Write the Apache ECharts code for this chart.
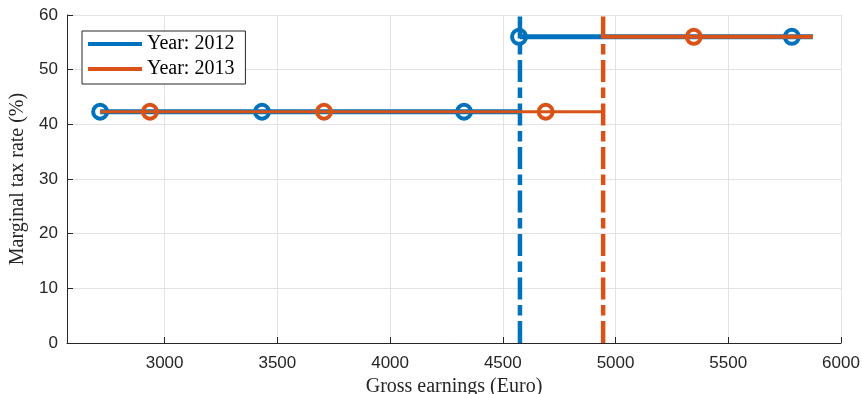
<!DOCTYPE html>
<html>
<head>
<meta charset="utf-8">
<script src="https://cdn.jsdelivr.net/npm/echarts@6/dist/echarts.min.js"></script>
<style>
html,body{margin:0;padding:0;background:#fff;}
#chart{width:862px;height:394px;}
</style>
</head>
<body>
<div id="chart"></div>
<script>
// ---- Data ----
const legendNames = ['Year: 2012', 'Year: 2013'];
const xTicks = [3000, 3500, 4000, 4500, 5000, 5500, 6000];
const yTicks = [0, 10, 20, 30, 40, 50, 60];
const rateLow = 42.3;
const rateHigh = 56;
const earningsStart = 2714;
const earningsEnd = 5875;
const threshold2012 = 4576;
const threshold2013 = 4945;
const markers2012X = [2714, 3432, 4328, 4572, 5782];
const markers2012Y = [42.3, 42.3, 42.3, 56, 56];
const markers2013X = [2935, 3707, 4690, 5347];
const markers2013Y = [42.3, 42.3, 42.3, 56];

const blue = '#0072BD';
const orange = '#D95319';
const serif = '"Liberation Serif", "DejaVu Serif", serif';
const sans = '"Liberation Sans", Arial, sans-serif';

function pairs(xs, ys) { return xs.map((x, i) => [x, ys[i]]); }

function yearSeries(name, color, threshold, mx, my, lowW, highW, z) {
  return [
    {
      name: name, type: 'line', data: [[earningsStart, rateLow], [threshold, rateLow]],
      showSymbol: false, symbol: 'none', lineStyle: { color: color, width: lowW }, itemStyle: { color: color },
      z: z, animation: false, silent: true
    },
    {
      name: name + ' high', type: 'line', data: [[threshold, rateHigh], [earningsEnd, rateHigh]],
      showSymbol: false, symbol: 'none', lineStyle: { color: color, width: highW }, itemStyle: { color: color },
      z: z, animation: false, silent: true
    },
    {
      name: name + ' threshold', type: 'line', data: [[threshold, 0], [threshold, 60]],
      showSymbol: false, symbol: 'none',
      lineStyle: { color: color, width: 4.5, type: [22, 5.5, 10.5, 5.5] },
      itemStyle: { color: color }, z: z, animation: false, silent: true
    },
    {
      name: name + ' markers', type: 'scatter', data: pairs(mx, my),
      symbol: 'circle', symbolSize: 14,
      itemStyle: { color: 'rgba(0,0,0,0)', borderColor: color, borderWidth: 4, opacity: 1 },
      z: z + 1, animation: false, silent: true
    }
  ];
}

const chart = echarts.init(document.getElementById('chart'), null, { renderer: 'canvas' });
chart.setOption({
  animation: false,
  backgroundColor: '#ffffff',
  grid: { left: 67, right: 21, top: 15, bottom: 51, containLabel: false, outerBoundsMode: 'none' },
  legend: {
    left: 82, top: 31, orient: 'vertical',
    data: [
      { name: legendNames[0], icon: 'rect' },
      { name: legendNames[1], icon: 'rect' }
    ],
    itemWidth: 54, itemHeight: 4, itemGap: 5,
    padding: [3, 11, 5, 6],
    borderColor: '#262626', borderWidth: 1, borderRadius: 0,
    backgroundColor: '#ffffff',
    textStyle: { fontFamily: serif, fontSize: 20, color: '#000' },
    selectedMode: false
  },
  xAxis: {
    type: 'value', min: 2567, max: 6000,
    name: 'Gross earnings (Euro)', nameLocation: 'middle', nameGap: 32,
    nameTextStyle: { fontFamily: serif, fontSize: 20, color: '#262626' },
    axisLine: { show: true, onZero: false, lineStyle: { color: '#262626', width: 1 } },
    axisTick: { show: true, inside: true, length: 6, customValues: xTicks, lineStyle: { color: '#262626' } },
    axisLabel: { customValues: xTicks, fontFamily: sans, fontSize: 17, color: '#262626', margin: 12,
      formatter: v => String(v) },
    splitLine: { show: true, lineStyle: { color: '#e3e3e3', width: 1 } }
  },
  yAxis: {
    type: 'value', min: 0, max: 60, interval: 10,
    name: 'Marginal tax rate (%)', nameLocation: 'middle', nameGap: 34, nameRotate: 90,
    nameTextStyle: { fontFamily: serif, fontSize: 20, color: '#262626' },
    axisLine: { show: true, onZero: false, lineStyle: { color: '#262626', width: 1 } },
    axisTick: { show: true, inside: true, length: 6, lineStyle: { color: '#262626' } },
    axisLabel: { fontFamily: sans, fontSize: 17, color: '#262626', margin: 9, formatter: v => String(v) },
    splitLine: { show: true, lineStyle: { color: '#e3e3e3', width: 1 } }
  },
  series: [].concat(
    yearSeries(legendNames[0], blue, threshold2012, markers2012X, markers2012Y, 5, 5, 2),
    yearSeries(legendNames[1], orange, threshold2013, markers2013X, markers2013Y, 3, 4, 4)
  )
});
</script>
</body>
</html>
